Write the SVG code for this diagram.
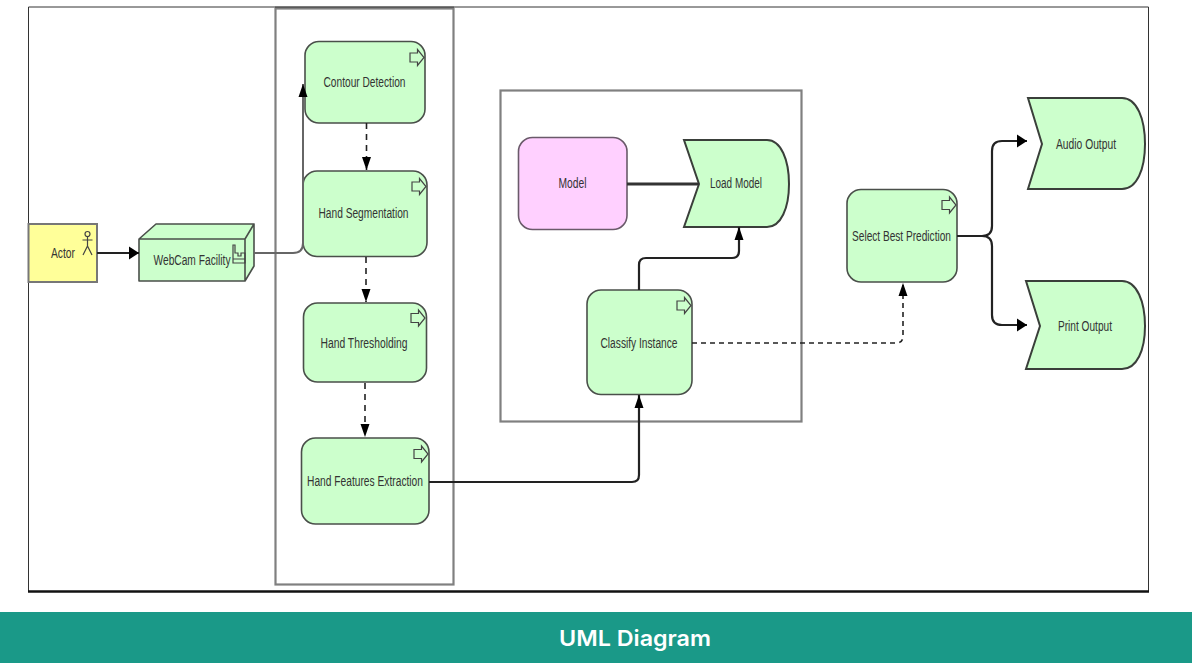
<svg xmlns="http://www.w3.org/2000/svg" width="1192" height="663" viewBox="0 0 1192 663">
<style>
.g{fill:#ccffcc;stroke:#4a4f4a;stroke-width:1.6}
.o{stroke:#3a3f3a;stroke-width:2}
.t{font-family:"Liberation Sans",Arial,sans-serif;font-size:14px;fill:#333;text-anchor:middle}
.ic{fill:none;stroke:#444;stroke-width:1.2}
.c{fill:none;stroke:#222;stroke-width:2.200}
.l{stroke:#666;stroke-width:2}
.m{stroke:#333;stroke-width:2.800}
.d{fill:none;stroke:#222;stroke-width:1.600;stroke-dasharray:6 5}
.h{stroke-dasharray:5 4}
.box{fill:none;stroke:#808080;stroke-width:2.200}
</style>
<defs>
<marker id="a" markerUnits="userSpaceOnUse" markerWidth="11" markerHeight="14" refX="10" refY="7" orient="auto"><path d="M0 0.500L10 7L0 13.500Z" fill="#000"/></marker>
<marker id="v" markerUnits="userSpaceOnUse" markerWidth="14" markerHeight="10" refX="13" refY="5" orient="auto"><path d="M0 0.500L13 5L0 9.500Z" fill="#000"/></marker>
<path id="proc" d="M0 -4.500H7.500V-8L14 0L7.500 8V4.500H0Z"/>
</defs>
<rect width="1192" height="663" fill="#fff"/>
<path d="M28.500 591V7H1148.500V591" fill="none" stroke="#333" stroke-width="1"/>
<path d="M275 7.500H454" stroke="#222" stroke-width="1.500"/>
<path d="M28 591.500H1149" stroke="#111" stroke-width="2.400"/>
<g id="group-pipeline"><rect class="box" x="275.500" y="8.500" width="178" height="576"/></g>
<g id="group-model"><rect class="box" x="500.500" y="90.500" width="301" height="331"/></g>
<g id="actor">
<rect x="28.500" y="224" width="68.500" height="58" fill="#ffff99" stroke="#777" stroke-width="2"/>
<g class="ic"><circle cx="87.500" cy="234" r="2.500"/><path d="M87.500 236.500V246M82.500 240H92.500M87.500 246L83 255M87.500 246L92 255"/></g>
<text class="t" x="63" y="258" textLength="24" lengthAdjust="spacingAndGlyphs">Actor</text>
</g>
<g id="webcam">
<path class="g" d="M139 239L156 224H254L245 239ZM245 239L254 224V266L245 281ZM139 239H245V281H139Z" stroke-linejoin="round"/>
<text class="t" x="192" y="265" textLength="77" lengthAdjust="spacingAndGlyphs">WebCam Facility</text>
<path class="ic" d="M233 245V263H245V253H241V256H238V253H235V245ZM233 259H245"/>
</g>
<g id="contour">
<rect class="g" x="305" y="41.500" width="120" height="81.500" rx="14"/>
<use href="#proc" class="ic" x="410" y="57.500"/>
<text class="t" x="364.500" y="87" textLength="82" lengthAdjust="spacingAndGlyphs">Contour Detection</text>
</g>
<g id="segmentation">
<rect class="g" x="303" y="171" width="124" height="85.500" rx="14"/>
<use href="#proc" class="ic" x="412" y="186.500"/>
<text class="t" x="363.500" y="218" textLength="90" lengthAdjust="spacingAndGlyphs">Hand Segmentation</text>
</g>
<g id="thresholding">
<rect class="g" x="303.500" y="303" width="123" height="79" rx="14"/>
<use href="#proc" class="ic" x="411" y="318"/>
<text class="t" x="364" y="348" textLength="87" lengthAdjust="spacingAndGlyphs">Hand Thresholding</text>
</g>
<g id="features">
<rect class="g" x="301.500" y="438" width="127.500" height="86" rx="14"/>
<use href="#proc" class="ic" x="414" y="454"/>
<text class="t" x="365" y="486" textLength="116" lengthAdjust="spacingAndGlyphs">Hand Features Extraction</text>
</g>
<g id="model">
<rect x="518.500" y="137.500" width="108.500" height="92" rx="14" fill="#ffd0ff" stroke="#6a5a6a" stroke-width="1.600"/>
<text class="t" x="572.500" y="188" textLength="28" lengthAdjust="spacingAndGlyphs">Model</text>
</g>
<g id="load-model">
<path class="g o" d="M684 140H767C781 140 789 160 789 184C789 208 781 227 767 227H684L699 184Z"/>
<text class="t" x="736" y="188" textLength="52" lengthAdjust="spacingAndGlyphs">Load Model</text>
</g>
<g id="classify">
<rect class="g" x="587" y="290" width="105" height="104.500" rx="14"/>
<use href="#proc" class="ic" x="677" y="305.500"/>
<text class="t" x="639" y="348" textLength="77" lengthAdjust="spacingAndGlyphs">Classify Instance</text>
</g>
<g id="select">
<rect class="g" x="847" y="189.500" width="110" height="92.500" rx="14"/>
<use href="#proc" class="ic" x="942" y="205"/>
<text class="t" x="901.500" y="241" textLength="99" lengthAdjust="spacingAndGlyphs">Select Best Prediction</text>
</g>
<g id="audio">
<path class="g o" d="M1028 98H1122C1137 98 1145 119 1145 144C1145 169 1137 189 1122 189H1028L1042 144Z"/>
<text class="t" x="1086" y="149" textLength="60" lengthAdjust="spacingAndGlyphs">Audio Output</text>
</g>
<g id="print">
<path class="g o" d="M1026 281H1122C1137 281 1145 302 1145 326C1145 350 1137 369 1122 369H1026L1040 326Z"/>
<text class="t" x="1085" y="331" textLength="54" lengthAdjust="spacingAndGlyphs">Print Output</text>
</g>
<g id="connectors">
<path class="c" d="M97 253H139" marker-end="url(#a)"/>
<path class="c l" d="M254 253H293Q303 253 303 243V84" marker-end="url(#v)"/>
<path class="d" d="M366.500 123V170" marker-end="url(#v)"/>
<path class="d" d="M366 257V302" marker-end="url(#v)"/>
<path class="d" d="M365 383V437" marker-end="url(#v)"/>
<path class="c" d="M429 482H632Q639 482 639 475V395" marker-end="url(#v)"/>
<path class="c m" d="M627 184H699"/>
<path class="c" d="M639 290V265Q639 258 646 258H732Q739 258 739 251V227" marker-end="url(#v)"/>
<path class="d h" d="M692 343H896Q903 343 903 336V283" marker-end="url(#v)"/>
<path class="c" d="M957 236H982Q992 236 992 226V151Q992 141 1002 141H1027" marker-end="url(#a)"/>
<path class="c" d="M982 236Q992 236 992 246V315Q992 325 1002 325H1027" marker-end="url(#a)"/>
</g>
<g id="footer">
<rect x="0" y="612" width="1192" height="51" fill="#1a9988"/>
<text x="635" y="646" font-family="Inter,'Open Sans',sans-serif" font-size="22" font-weight="600" fill="#fff" text-anchor="middle" textLength="152" lengthAdjust="spacingAndGlyphs">UML Diagram</text>
</g>
</svg>
